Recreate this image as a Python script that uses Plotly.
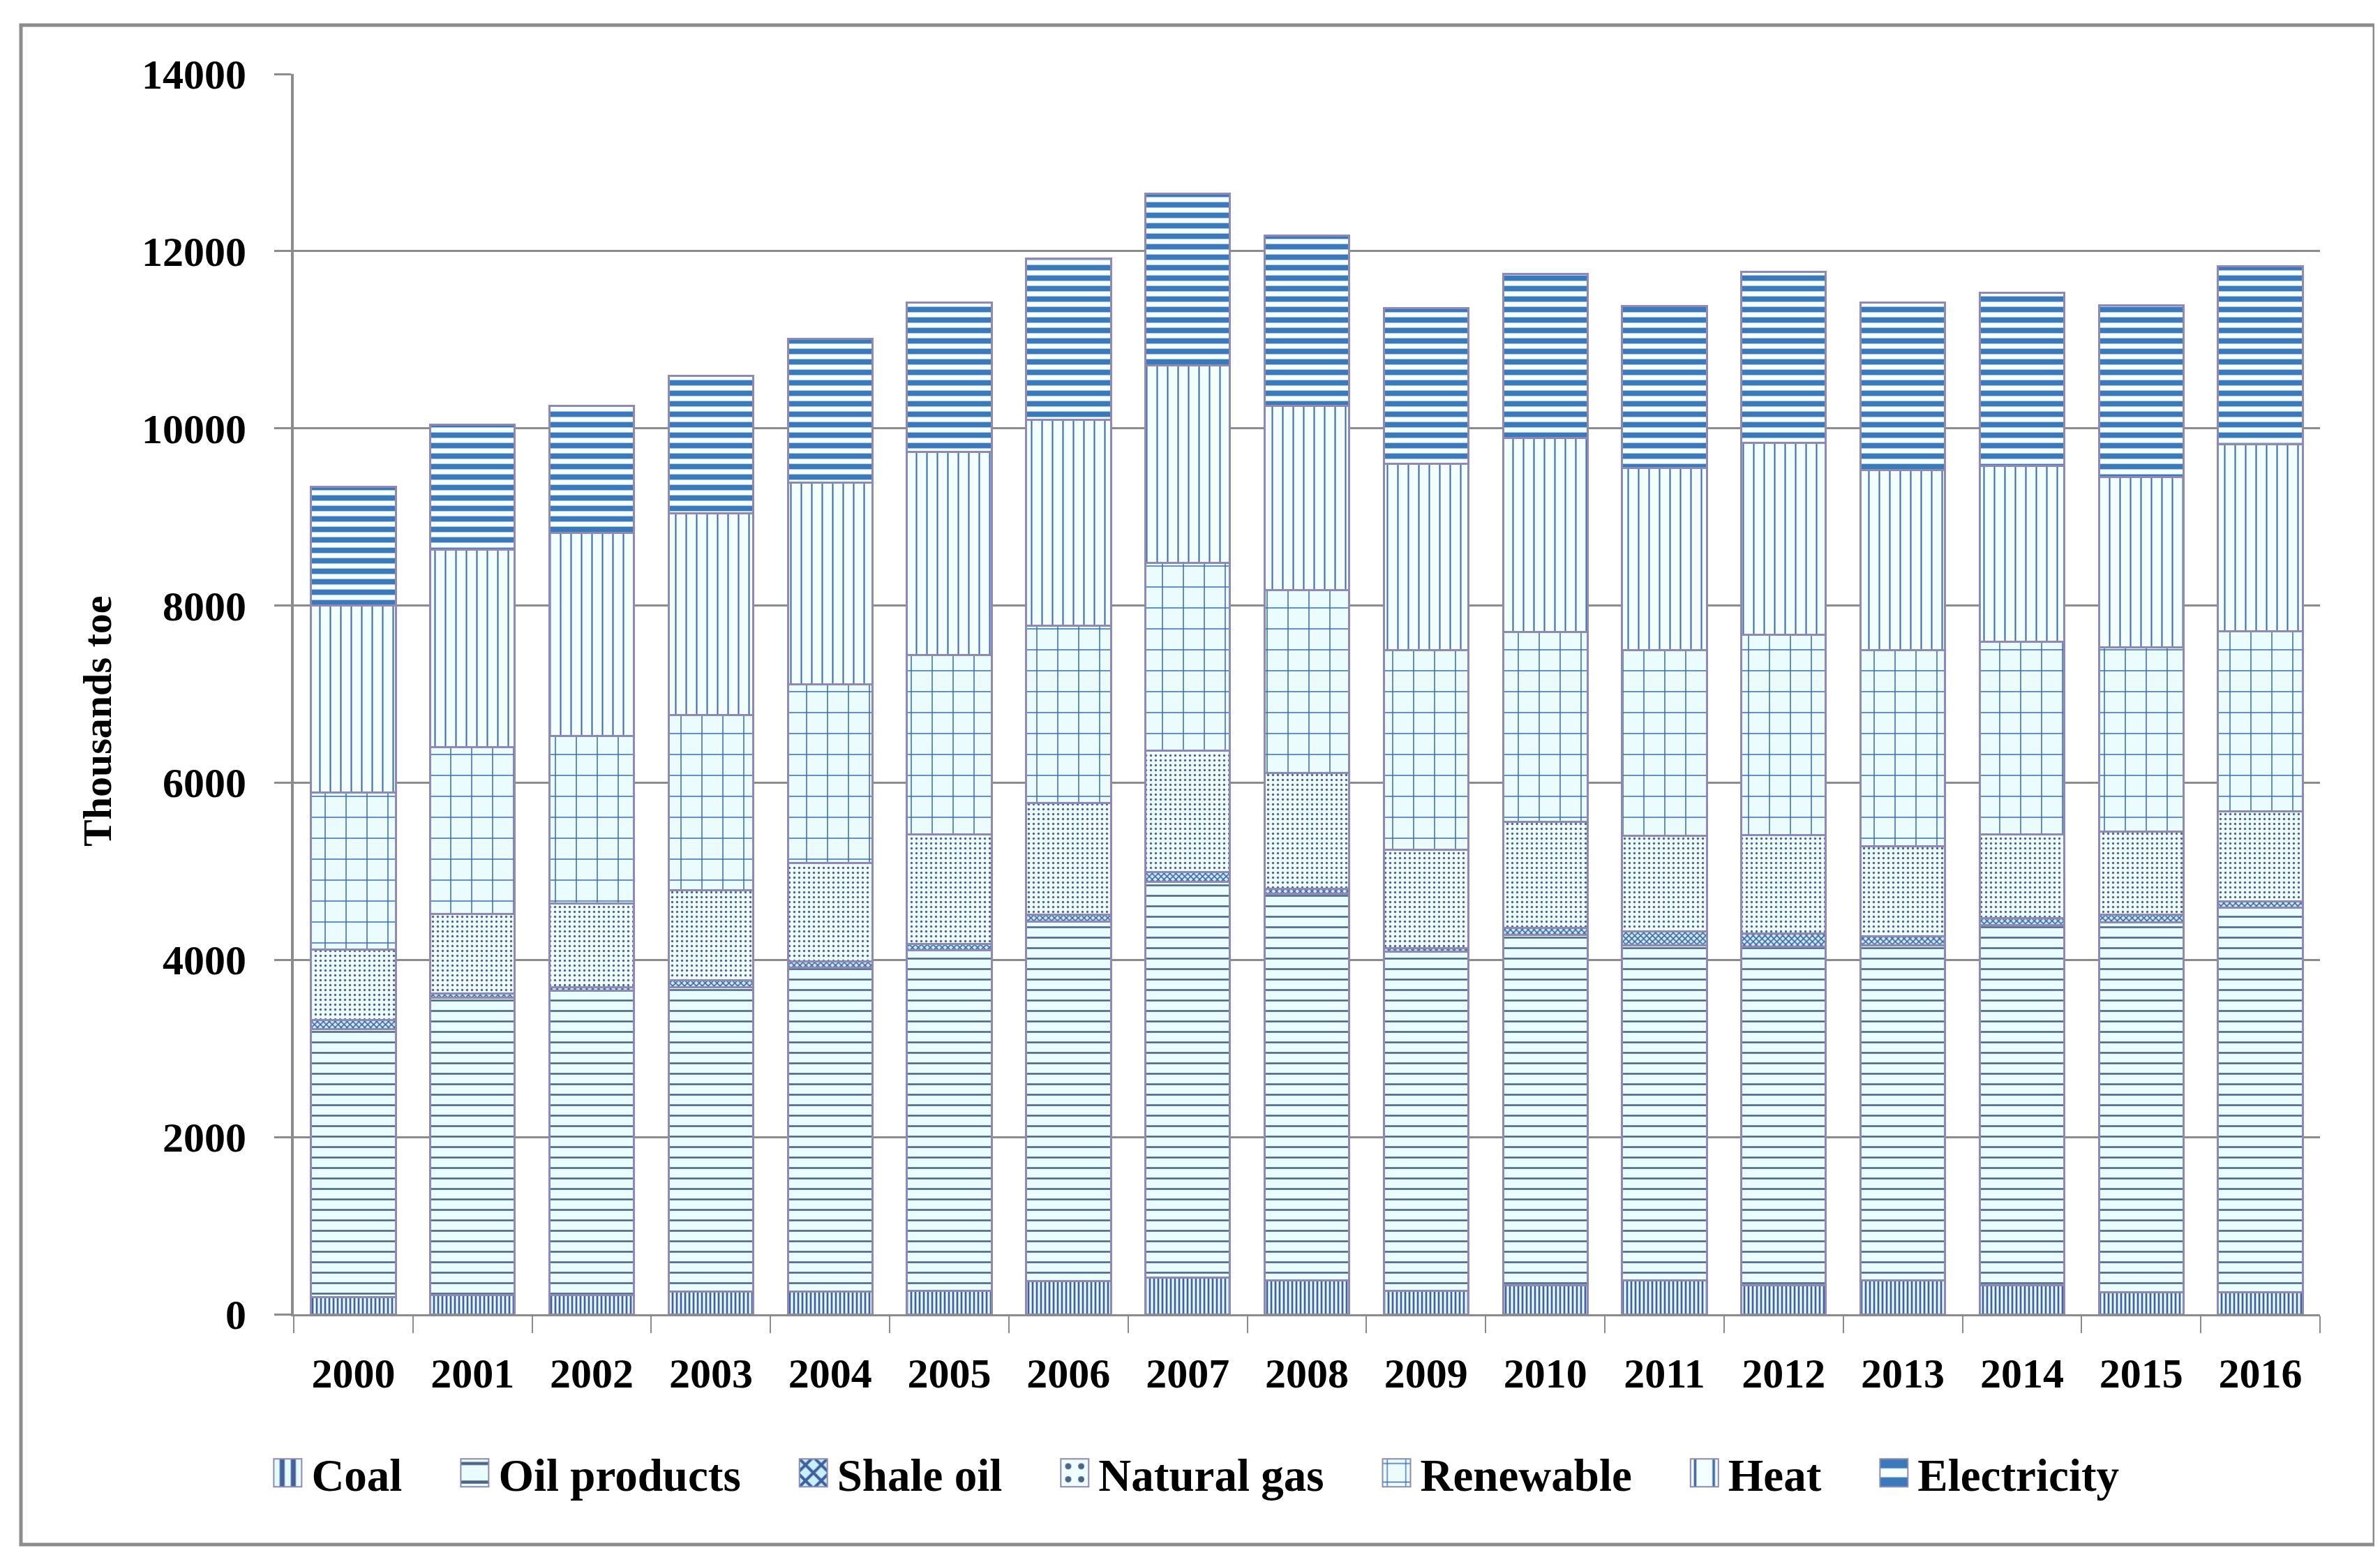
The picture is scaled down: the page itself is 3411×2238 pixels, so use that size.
import plotly.graph_objects as go

years = ["2000", "2001", "2002", "2003", "2004", "2005", "2006", "2007", "2008",
         "2009", "2010", "2011", "2012", "2013", "2014", "2015", "2016"]

coal = [190, 215, 215, 260, 260, 265, 375, 410, 380, 265, 330, 380, 330, 380, 330, 250, 250]
oil_products = [3030, 3355, 3435, 3430, 3650, 3845, 4055, 4470, 4370, 3825, 3950, 3780, 3820, 3780, 4060, 4170, 4340]
shale_oil = [100, 50, 40, 80, 70, 70, 80, 110, 50, 40, 80, 160, 150, 110, 80, 90, 70]
natural_gas = [800, 900, 950, 1020, 1110, 1240, 1260, 1370, 1310, 1110, 1200, 1080, 1110, 1010, 950, 940, 1020]
renewable = [1770, 1880, 1890, 1970, 2020, 2020, 2000, 2120, 2060, 2260, 2140, 2100, 2260, 2220, 2170, 2080, 2030]
heat = [2110, 2230, 2290, 2280, 2280, 2290, 2330, 2230, 2080, 2100, 2190, 2050, 2170, 2030, 1990, 1920, 2110]
electricity = [1340, 1410, 1430, 1550, 1620, 1690, 1820, 1940, 1930, 1760, 1850, 1830, 1930, 1890, 1950, 1940, 2010]

y_ticks = [0, 2000, 4000, 6000, 8000, 10000, 12000, 14000]

series = [
    ("Coal", coal, dict(shape="|", fgcolor="#46609e", bgcolor="#e4faff", size=6, solidity=0.45)),
    ("Oil products", oil_products, dict(shape="-", fgcolor="#4b6689", bgcolor="#e9fcff", size=15, solidity=0.17)),
    ("Shale oil", shale_oil, dict(shape="x", fgcolor="#3f5f9e", bgcolor="#c8eef8", size=6, solidity=0.45)),
    ("Natural gas", natural_gas, dict(shape=".", fgcolor="#4b6689", bgcolor="#f0fdff", size=7, solidity=0.18)),
    ("Renewable", renewable, dict(shape="+", fgcolor="#3a6eb0", bgcolor="#ebfcff", size=30, solidity=0.1)),
    ("Heat", heat, dict(shape="|", fgcolor="#466ea6", bgcolor="#f2feff", size=15, solidity=0.14)),
    ("Electricity", electricity, dict(shape="-", fgcolor="#3a7aba", bgcolor="#f6feff", size=15, solidity=0.52)),
]

font_family = "Liberation Serif"
NBSP = "\u00a0"
ITEM_W = 58

fig = go.Figure()
for i, (name, vals, pat) in enumerate(series):
    label = name + (NBSP * 4 if i < len(series) - 1 else "")
    fig.add_trace(go.Bar(
        name=label, x=years, y=vals,
        marker=dict(pattern=dict(fillmode="replace", **pat),
                    line=dict(color="#8e89b6", width=3)),
    ))

fig.update_layout(
    width=3411, height=2238,
    barmode="stack", bargap=0.29,
    paper_bgcolor="white", plot_bgcolor="white",
    margin=dict(l=413, r=94, t=98, b=363),
    font=dict(family=font_family, size=60, color="black"),
    showlegend=True,
    legend=dict(orientation="h", x=0.444, xanchor="center", y=-0.128, yanchor="middle",
                font=dict(family=font_family, size=65, color="black", weight="bold"),
                traceorder="normal", itemwidth=ITEM_W, tracegroupgap=0,
                bgcolor="rgba(0,0,0,0)"),
)

fig.update_xaxes(
    type="category", showgrid=False,
    showline=True, linecolor="#8c8c8c", linewidth=3,
    ticks="outside", tickson="boundaries", ticklen=24, tickcolor="#8c8c8c", tickwidth=2,
    ticklabelstandoff=30,
    tickfont=dict(family=font_family, size=60, color="black", weight="bold"),
)

fig.update_yaxes(
    range=[0, 14000], tickvals=y_ticks, ticktext=[str(v) for v in y_ticks],
    showgrid=True, gridcolor="#8c8c8c", gridwidth=3,
    showline=True, linecolor="#8c8c8c", linewidth=4,
    ticks="outside", ticklen=24, tickcolor="#8c8c8c", tickwidth=3,
    ticklabelstandoff=28,
    tickfont=dict(family=font_family, size=60, color="black", weight="bold"),
    zeroline=False,
)

fig.add_annotation(
    text="Thousands toe", xref="paper", yref="paper",
    x=-0.097, y=0.478, xanchor="center", yanchor="middle",
    textangle=-90, showarrow=False,
    font=dict(family=font_family, size=58, color="black", weight="bold"),
)

# outer chart frame
L, R, T, B = 413, 3317, 98, 1875
pw, ph = R - L, B - T
fig.add_shape(type="rect", xref="paper", yref="paper",
              x0=(22 - L) / pw, x1=(3395 - L) / pw,
              y0=(B - 2205) / ph, y1=(B - 28) / ph,
              line=dict(color="#8c8c8c", width=5), fillcolor="rgba(0,0,0,0)", layer="below")

# enlarge the legend swatches (CSS styling only)
center = (ITEM_W + 10) / 2
post = """
var st = document.createElement('style');
st.textContent = '.legend .legendpoints path { transform: translate(%.1fpx, 0px) scale(3.33) !important; stroke-width: 0.6px !important; }';
document.head.appendChild(st);
""" % center

fig.write_html("out.html", post_script=post)
